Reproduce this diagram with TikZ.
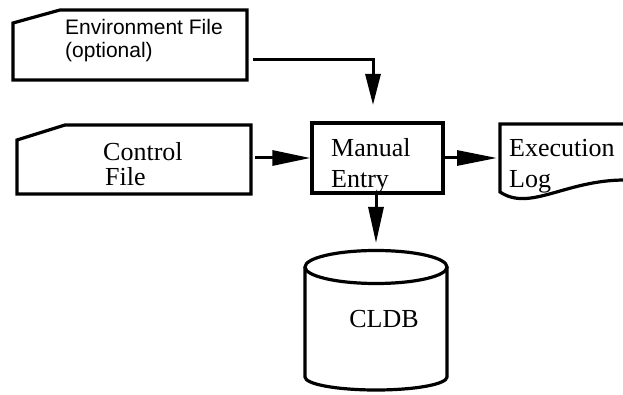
\documentclass[tikz,border=0pt]{standalone}
\usepackage{fontspec}
\setmainfont{Liberation Serif}
\newfontfamily\arialf{Liberation Sans}
\usetikzlibrary{arrows.meta}
\begin{document}
\begin{tikzpicture}[x=1pt,y=-1pt,
  shapeline/.style={line width=3.2pt, line join=miter},
  conn/.style={line width=3pt, -{Triangle[length=38pt,width=15pt]}},
  lbl/.style={anchor=base west, inner sep=0pt, font=\fontsize{26}{30}\selectfont},
  slbl/.style={anchor=base west, inner sep=0pt, font=\arialf\fontsize{21}{24}\selectfont}]
\path[fill=white] (0,0) rectangle (623,395);
\useasboundingbox (0,0) rectangle (623,395);
% Environment file
\draw[shapeline] (13,23) -- (60,10) -- (247,10) -- (247,80) -- (13,80) -- cycle;
\node[slbl] (envt1) at (65,35) {Environment File};
\node[slbl] (envt2) at (65,58) {(optional)};
\coordinate (envout) at (253,60);
% Control file
\draw[shapeline] (17,140) -- (65,125) -- (251,125) -- (251,194) -- (17,194) -- cycle;
\node[lbl] (ct1) at (103,161) {Control};
\node[lbl] (ct2) at (105,186) {File};
\coordinate (ctout) at (255,158);
% Manual entry
\node[draw, shapeline, minimum width=131pt, minimum height=70pt, inner sep=0pt] (me) at (377.5,158) {};
\node[lbl] (met1) at (331,157) {Manual};
\node[lbl] (met2) at (331,188) {Entry};
% Execution log
\draw[shapeline] (625,124) -- (500,124) -- (500,192) .. controls (530,212) and (565,180) .. (625,180);
\coordinate (log) at (497,158);
\node[lbl] (lt1) at (509,157) {Execution};
\node[lbl] (lt2) at (509,188) {Log};
% CLDB cylinder
\draw[shapeline] (376,267) ellipse [x radius=71, y radius=16.5];
\draw[shapeline] (305,267) -- (305,377) arc[start angle=180, end angle=0, x radius=71, y radius=13] -- (447,267);
\node[lbl, anchor=base] (db) at (384,327) {CLDB};
% connectors
\draw[line width=3pt, -{Triangle[length=31pt,width=15pt]}] (envout) -- (373,60) -- (373,105);
\draw[conn] (ctout) -- (me.west);
\draw[conn, -{Triangle[length=40pt,width=15pt]}] (me.east) -- (log);
\draw[conn, -{Triangle[length=36pt,width=15pt]}] (376,193) -- (376,243);
\end{tikzpicture}
\end{document}
